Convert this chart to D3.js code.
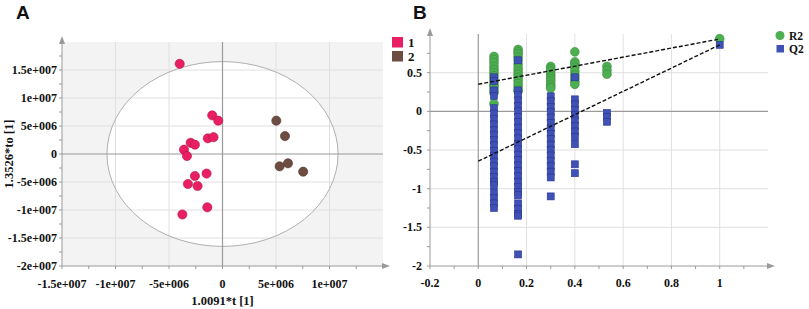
<!DOCTYPE html>
<html>
<head>
<meta charset="utf-8">
<script src="https://cdn.jsdelivr.net/npm/d3@7"></script>
<style>
  body { margin: 0; background: #fff; }
  svg text { font-family: 'Liberation Serif', 'Times New Roman', serif; font-weight: bold; fill: #111; }
  svg text.panel { font-family: 'Liberation Sans', Arial, sans-serif; font-size: 19px; }
</style>
</head>
<body>
<div id="chart"></div>
<script>
// ---- panel A : score plot ----
const pcaTicksX = [-1.5e7, -1e7, -5e6, 0, 5e6, 1e7]
const pcaTicksY = [-2e7, -1.5e7, -1e7, -5e6, 0, 5e6, 1e7, 1.5e7]
const group1 = [
  [-4.0e6, 1.61e7], [-0.96e6, 6.9e6], [-0.4e6, 5.95e6], [-1.37e6, 2.8e6], [-0.84e6, 3.0e6],
  [-2.98e6, 2.0e6], [-2.58e6, 1.66e6], [-3.6e6, 0.77e6], [-3.32e6, -0.36e6], [-2.58e6, -3.93e6],
  [-1.49e6, -3.5e6], [-3.23e6, -5.36e6], [-2.33e6, -5.71e6], [-1.42e6, -9.52e6], [-3.75e6, -1.08e7]
]
const group2 = [
  [5.03e6, 5.95e6], [5.84e6, 3.2e6], [5.34e6, -2.2e6], [6.12e6, -1.66e6], [7.54e6, -3.16e6]
]
const groupNames = ['1', '2']
const ellipseRadii = [1.08e7, 1.65e7]

// ---- panel B : permutation test ----
const permTicksX = [-0.2, 0, 0.2, 0.4, 0.6, 0.8, 1]
const permTicksY = [-2, -1.5, -1, -0.5, 0, 0.5]
const permX = [0.065, 0.165, 0.3, 0.4, 0.533, 1]
const r2Values = [
  [0.71, 0.67, 0.63, 0.58, 0.54, 0.50, 0.46, 0.42, 0.38, 0.34, 0.31, 0.27, 0.24, 0.10],
  [0.80, 0.77, 0.74, 0.70, 0.66, 0.61, 0.56, 0.52, 0.48, 0.44, 0.40, 0.36, 0.32, 0.28, 0.26],
  [0.58, 0.55, 0.52, 0.48, 0.45, 0.42, 0.39, 0.35, 0.32, 0.30],
  [0.77, 0.64, 0.61, 0.57, 0.52, 0.47, 0.43, 0.39, 0.35],
  [0.58, 0.53, 0.48],
  [0.94]
]
const q2Values = [
  [0.44, 0.39, 0.27, 0.20, 0.04, -0.03, -0.10, -0.17, -0.24, -0.30, -0.37, -0.44, -0.51, -0.58,
   -0.65, -0.71, -0.78, -0.85, -0.91, -0.955, -1.05, -1.12, -1.19, -1.25],
  [0.66, 0.27, 0.21, 0.14, 0.07, 0.00, -0.07, -0.14, -0.21, -0.28, -0.35, -0.42, -0.49, -0.56,
   -0.63, -0.70, -0.77, -0.84, -0.91, -0.98, -1.04, -1.085, -1.19, -1.26, -1.33, -1.35, -1.85],
  [0.195, 0.13, 0.06, -0.01, -0.08, -0.15, -0.22, -0.29, -0.36, -0.43, -0.50, -0.57, -0.64,
   -0.71, -0.78, -0.855, -1.10],
  [0.44, 0.155, 0.09, 0.02, -0.05, -0.12, -0.19, -0.26, -0.33, -0.425, -0.685, -0.80],
  [-0.02, -0.07, -0.135],
  [0.86]
]
// values of the two regression lines at x = 0 and x = 1
const r2Line = [0.35, 0.935]
const q2Line = [-0.645, 0.86]
const seriesNames = ['R2', 'Q2']

const W = 809, H = 309
const svg = d3.select('#chart').append('svg').attr('width', W).attr('height', H)

const axisCol = '#9a9a9a', gridCol = '#e0e0e0'
const pink = '#e91e63', brown = '#6d4c41', green = '#4caf50', blue = '#3f51b5'

function sci (v) {
  if (v === 0) return '0'
  let [m, e] = v.toExponential().split('e')
  let sign = e[0] === '-' ? '-' : '+'
  e = e.replace(/[+-]/, '').padStart(3, '0')
  return m + 'e' + sign + e
}

function arrowUp (g, x, y) {
  g.append('path').attr('d', `M${x},${y - 6}L${x - 3},${y + 2}L${x + 3},${y + 2}Z`).attr('fill', axisCol)
}
function arrowRight (g, x, y) {
  g.append('path').attr('d', `M${x + 7},${y}L${x - 1},${y - 3}L${x - 1},${y + 3}Z`).attr('fill', axisCol)
}

// ================= A =================
{
  let x = d3.scaleLinear().domain([-1.5e7, 1.5e7]).range([62, 383])
  let y = d3.scaleLinear().domain([-2e7, 2e7]).range([266, 42])
  let g = svg.append('g')

  g.append('rect').attr('x', x(-1.5e7)).attr('y', y(2e7))
    .attr('width', x(1.5e7) - x(-1.5e7)).attr('height', y(-2e7) - y(2e7)).attr('fill', '#f3f3f3')
  g.append('ellipse').attr('cx', x(0)).attr('cy', y(0))
    .attr('rx', x(ellipseRadii[0]) - x(0)).attr('ry', y(0) - y(ellipseRadii[1]))
    .attr('fill', '#fff')

  // grid
  g.selectAll('line.gx').data(pcaTicksX.filter(d => d !== 0 && d !== -1.5e7)).enter().append('line')
    .attr('x1', d => x(d)).attr('x2', d => x(d)).attr('y1', y(2e7)).attr('y2', y(-2e7))
    .attr('stroke', gridCol)
  g.selectAll('line.gy').data(pcaTicksY.filter(d => d !== 0 && d !== -2e7)).enter().append('line')
    .attr('y1', d => y(d)).attr('y2', d => y(d)).attr('x1', x(-1.5e7)).attr('x2', x(1.5e7))
    .attr('stroke', gridCol)

  g.append('ellipse').attr('cx', x(0)).attr('cy', y(0))
    .attr('rx', x(ellipseRadii[0]) - x(0)).attr('ry', y(0) - y(ellipseRadii[1]))
    .attr('fill', 'none').attr('stroke', '#b0b0b0')

  // zero lines
  g.append('line').attr('x1', x(0)).attr('x2', x(0)).attr('y1', y(2e7)).attr('y2', y(-2e7))
    .attr('stroke', axisCol).attr('stroke-width', 1.2)
  g.append('line').attr('y1', y(0)).attr('y2', y(0)).attr('x1', x(-1.5e7)).attr('x2', x(1.5e7))
    .attr('stroke', axisCol).attr('stroke-width', 1.2)

  // axes
  g.append('line').attr('x1', x(-1.5e7)).attr('x2', x(-1.5e7)).attr('y1', y(2e7)).attr('y2', y(-2e7))
    .attr('stroke', axisCol)
  g.append('line').attr('x1', x(-1.5e7)).attr('x2', x(1.5e7)).attr('y1', y(-2e7)).attr('y2', y(-2e7))
    .attr('stroke', axisCol)
  arrowUp(g, x(-1.5e7), y(2e7))
  arrowRight(g, x(1.5e7), y(-2e7))

  let minorY = d3.range(-2e7, 2e7, 2.5e6)
  g.selectAll('line.my').data(minorY).enter().append('line')
    .attr('x1', x(-1.5e7) - 3).attr('x2', x(-1.5e7)).attr('y1', d => y(d)).attr('y2', d => y(d))
    .attr('stroke', axisCol)
  let minorX = d3.range(-1.5e7, 1.5e7, 2.5e6)
  g.selectAll('line.mx').data(minorX).enter().append('line')
    .attr('y1', y(-2e7)).attr('y2', y(-2e7) + 3).attr('x1', d => x(d)).attr('x2', d => x(d))
    .attr('stroke', axisCol)

  g.selectAll('text.ty').data(pcaTicksY).enter().append('text')
    .attr('x', x(-1.5e7) - 5).attr('y', d => y(d) + 4).attr('text-anchor', 'end')
    .attr('font-size', 12).text(sci)
  g.selectAll('text.tx').data(pcaTicksX).enter().append('text')
    .attr('x', d => x(d)).attr('y', 288).attr('text-anchor', 'middle')
    .attr('font-size', 12).text(sci)

  g.append('text').attr('x', x(0)).attr('y', 305).attr('text-anchor', 'middle')
    .attr('font-size', 12.5).text('1.0091*t [1]')
  g.append('text').attr('transform', `translate(13, ${y(0)}) rotate(-90)`)
    .attr('text-anchor', 'middle').attr('font-size', 12.5).text('1.3526*to [1]')

  // points
  let groups = [group1, group2], cols = [pink, brown]
  groups.forEach((pts, i) => {
    g.selectAll(null).data(pts).enter().append('circle')
      .attr('cx', d => x(d[0])).attr('cy', d => y(d[1])).attr('r', 4.6)
      .attr('fill', cols[i]).attr('stroke', d3.color(cols[i]).darker(0.8)).attr('stroke-width', 0.6)
  })

  // legend
  groupNames.forEach((n, i) => {
    g.append('rect').attr('x', 392).attr('y', 37 + i * 14).attr('width', 11).attr('height', 10.5)
      .attr('fill', cols[i])
    g.append('text').attr('x', 408).attr('y', 47 + i * 13.5).attr('font-size', 13).text(n)
  })

  svg.append('text').attr('class', 'panel').attr('x', 16).attr('y', 19).text('A')
}

// ================= B =================
{
  let x = d3.scaleLinear().domain([-0.2, 1.2]).range([430, 768])
  let y = d3.scaleLinear().domain([-2, 1]).range([266, 34])
  let g = svg.append('g')

  g.selectAll('line.gx').data(permTicksX.filter(d => d > 0)).enter().append('line')
    .attr('x1', d => x(d)).attr('x2', d => x(d)).attr('y1', y(1)).attr('y2', y(-2))
    .attr('stroke', gridCol)
  g.selectAll('line.gy').data(permTicksY.filter(d => d !== 0 && d !== -2)).enter().append('line')
    .attr('y1', d => y(d)).attr('y2', d => y(d)).attr('x1', x(-0.2)).attr('x2', x(1.2))
    .attr('stroke', gridCol)

  g.append('line').attr('x1', x(0)).attr('x2', x(0)).attr('y1', y(1)).attr('y2', y(-2))
    .attr('stroke', axisCol).attr('stroke-width', 1.2)
  g.append('line').attr('y1', y(0)).attr('y2', y(0)).attr('x1', x(-0.2)).attr('x2', x(1.2))
    .attr('stroke', axisCol).attr('stroke-width', 1.2)

  g.append('line').attr('x1', x(-0.2)).attr('x2', x(-0.2)).attr('y1', y(1)).attr('y2', y(-2))
    .attr('stroke', axisCol)
  g.append('line').attr('x1', x(-0.2)).attr('x2', x(1.2)).attr('y1', y(-2)).attr('y2', y(-2))
    .attr('stroke', axisCol)
  arrowUp(g, x(-0.2), y(1))
  arrowRight(g, x(1.2), y(-2))

  g.selectAll('line.my').data(d3.range(-2, 1, 0.25)).enter().append('line')
    .attr('x1', x(-0.2) - 3).attr('x2', x(-0.2)).attr('y1', d => y(d)).attr('y2', d => y(d))
    .attr('stroke', axisCol)
  g.selectAll('line.mx').data(d3.range(-0.2, 1.2, 0.1)).enter().append('line')
    .attr('y1', y(-2)).attr('y2', y(-2) + 3).attr('x1', d => x(d)).attr('x2', d => x(d))
    .attr('stroke', axisCol)

  g.selectAll('text.ty').data(permTicksY).enter().append('text')
    .attr('x', x(-0.2) - 8).attr('y', d => y(d) + 4).attr('text-anchor', 'end')
    .attr('font-size', 12).text(d => d)
  g.selectAll('text.tx').data(permTicksX).enter().append('text')
    .attr('x', d => x(d)).attr('y', 287).attr('text-anchor', 'middle')
    .attr('font-size', 12).text(d => d)

  // R2 circles
  permX.forEach((px, i) => {
    g.selectAll(null).data(r2Values[i]).enter().append('circle')
      .attr('cx', x(px)).attr('cy', d => y(d)).attr('r', 4.4)
      .attr('fill', green).attr('stroke', '#3d8b40').attr('stroke-width', 0.6)
  })
  // Q2 squares
  let s = 7
  permX.forEach((px, i) => {
    g.selectAll(null).data(q2Values[i]).enter().append('rect')
      .attr('x', x(px) - s / 2).attr('y', d => y(d) - s / 2).attr('width', s).attr('height', s)
      .attr('fill', blue).attr('stroke', '#283593').attr('stroke-width', 0.6)
  })

  // regression lines
  ;[r2Line, q2Line].forEach(l => {
    g.append('line').attr('x1', x(0)).attr('y1', y(l[0])).attr('x2', x(1)).attr('y2', y(l[1]))
      .attr('stroke', '#111').attr('stroke-width', 1.4).attr('stroke-dasharray', '4,2')
  })

  // legend
  g.append('circle').attr('cx', 780).attr('cy', 35.5).attr('r', 4.5).attr('fill', green)
  g.append('rect').attr('x', 776.5).attr('y', 45).attr('width', 7.5).attr('height', 7.5).attr('fill', blue)
  seriesNames.forEach((n, i) => {
    g.append('text').attr('x', 789).attr('y', 39.5 + i * 13.5).attr('font-size', 11.5).text(n)
  })

  svg.append('text').attr('class', 'panel').attr('x', 413).attr('y', 19).text('B')
}
</script>
</body>
</html>
